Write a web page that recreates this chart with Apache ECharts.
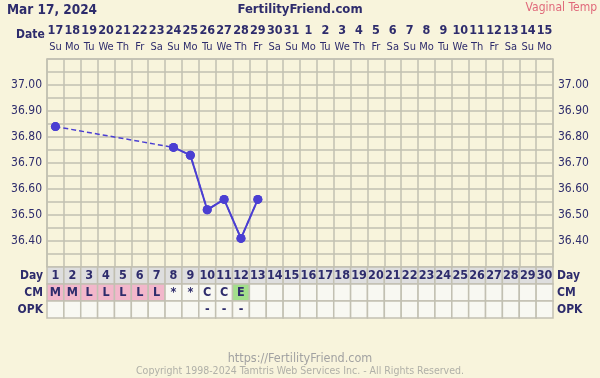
<!DOCTYPE html>
<html><head><meta charset="utf-8">
<script src="https://cdn.jsdelivr.net/npm/echarts@6/dist/echarts.min.js"></script>
<style>html,body{margin:0;padding:0;background:#f8f4dc}#c{width:600px;height:378px}</style>
</head><body><div id="c"></div>
<script>
const dateLabels = ['17','18','19','20','21','22','23','24','25','26','27','28','29','30','31','1','2','3','4','5','6','7','8','9','10','11','12','13','14','15'];
const weekdayLabels = ['Su','Mo','Tu','We','Th','Fr','Sa','Su','Mo','Tu','We','Th','Fr','Sa','Su','Mo','Tu','We','Th','Fr','Sa','Su','Mo','Tu','We','Th','Fr','Sa','Su','Mo'];
const cycleDays = [1,2,3,4,5,6,7,8,9,10,11,12,13,14,15,16,17,18,19,20,21,22,23,24,25,26,27,28,29,30];
const temps = [36.84,null,null,null,null,null,null,36.76,36.73,36.52,36.56,36.41,36.56,null,null,null,null,null,null,null,null,null,null,null,null,null,null,null,null,null];
const cmValues = ['M','M','L','L','L','L','L','*','*','C','C','E','','','','','','','','','','','','','','','','','',''];
const opkValues = ['','','','','','','','','','-','-','-','','','','','','','','','','','','','','','','','',''];
const rowNames = ['Day','CM','OPK'];
const yTickLabels = ['36.40','36.50','36.60','36.70','36.80','36.90','37.00'];

const FF = "'DejaVu Sans Condensed','DejaVu Sans',sans-serif";
const TXT = '#2e2c6c';
const GRID = '#c2c0b2';
const LINE = '#4b3fd2';
const cmFill = {M:'#f2b7cb', L:'#f2b7cb', E:'#a3df8c'};

const rows = [cycleDays.map(String), cmValues, opkValues];
const cells = [];
rows.forEach((r, ri) => r.forEach((_, ci) => cells.push([ci, ri])));

const yFmt = v => { const s = (Math.round(v*100)/100).toFixed(2); return yTickLabels.includes(s) ? s : ''; };

const chart = echarts.init(document.getElementById('c'), null, {renderer:'canvas'});
chart.setOption({
  backgroundColor:'#f8f4dc',
  animation:false,
  title:[
    {text:'Mar 17, 2024', left:7, top:3, padding:0, textStyle:{fontFamily:FF, fontWeight:'bold', fontSize:13.5, color:TXT}},
    {text:'FertilityFriend.com', left:'center', top:3, padding:0, textStyle:{fontFamily:FF, fontWeight:'bold', fontSize:13, color:TXT}},
    {text:'Vaginal Temp', right:3, top:2, padding:0, textStyle:{fontFamily:FF, fontWeight:'normal', fontSize:12, color:'#e0697a'}},
    {text:'Date', left:16, top:29, padding:0, textStyle:{fontFamily:FF, fontWeight:'bold', fontSize:12, color:TXT}},
    {text:'https://FertilityFriend.com', left:'center', top:352, padding:0, textStyle:{fontFamily:FF, fontWeight:'normal', fontSize:12.5, color:'#a2a2a2'}},
    {text:'Copyright 1998-2024 Tamtris Web Services Inc. - All Rights Reserved.', left:'center', top:366, padding:0, textStyle:{fontFamily:FF, fontWeight:'normal', fontSize:10.5, color:'#b0b0a8'}}
  ],
  grid:[
    {left:47, right:47, top:59, height:208},
    {left:47, right:47, top:267, height:51}
  ],
  xAxis:[
    {type:'category', gridIndex:0, position:'top', data:cycleDays, boundaryGap:true,
     axisLine:{show:true, lineStyle:{color:GRID, width:1.5}}, axisTick:{show:false},
     splitLine:{show:true, lineStyle:{color:GRID, width:1.5}},
     axisLabel:{interval:0, margin:4, formatter:(v,i)=>'{d|'+dateLabels[i]+'}\n{w|'+weekdayLabels[i]+'}',
       rich:{d:{fontFamily:FF, fontWeight:'bold', fontSize:12.5, color:TXT, lineHeight:16},
             w:{fontFamily:FF, fontWeight:'normal', fontSize:11, color:TXT, lineHeight:16}}}},
    {type:'category', gridIndex:1, data:cycleDays, boundaryGap:true,
     axisLine:{show:false}, axisTick:{show:false}, axisLabel:{show:false}, splitLine:{show:false}}
  ],
  yAxis:[
    {type:'value', gridIndex:0, min:36.3, max:37.1, interval:0.05, position:'left',
     axisLine:{show:true, lineStyle:{color:GRID, width:1.5}}, axisTick:{show:false},
     splitLine:{show:true, lineStyle:{color:GRID, width:1.5}},
     axisLabel:{margin:5, formatter:yFmt, fontFamily:FF, fontSize:12, color:TXT}},
    {type:'value', gridIndex:0, min:36.3, max:37.1, interval:0.05, position:'right',
     axisLine:{show:true, lineStyle:{color:GRID, width:1.5}}, axisTick:{show:false},
     splitLine:{show:false},
     axisLabel:{margin:5, formatter:yFmt, fontFamily:FF, fontSize:12, color:TXT}},
    {type:'category', gridIndex:1, data:rowNames, inverse:true, position:'left',
     axisLine:{show:false}, axisTick:{show:false}, splitLine:{show:false},
     axisLabel:{margin:4, fontFamily:FF, fontWeight:'bold', fontSize:12, color:TXT}},
    {type:'category', gridIndex:1, data:rowNames, inverse:true, position:'right',
     axisLine:{show:false}, axisTick:{show:false}, splitLine:{show:false},
     axisLabel:{margin:4, fontFamily:FF, fontWeight:'bold', fontSize:12, color:TXT}}
  ],
  series:[
    {type:'line', xAxisIndex:0, yAxisIndex:0, data:temps, connectNulls:true,
     lineStyle:{color:LINE, width:1.5, type:[5,3]}, itemStyle:{color:LINE},
     symbol:'circle', symbolSize:9, showSymbol:true, z:3},
    {type:'line', xAxisIndex:0, yAxisIndex:0, data:temps, connectNulls:false,
     lineStyle:{color:LINE, width:2}, itemStyle:{color:LINE},
     symbol:'circle', symbolSize:9, showSymbol:true, z:4},
    {type:'custom', xAxisIndex:1, yAxisIndex:2, data:cells,
     renderItem:(params, api)=>{
       const ci = api.value(0), ri = api.value(1);
       const c = api.coord([ci, ri]);
       const s = api.size([1,1]);
       const text = rows[ri][ci];
       let fill = '#f8f8f2';
       if (ri===0) fill = '#dedede';
       else if (ri===1 && cmFill[text]) fill = cmFill[text];
       return {type:'group', children:[
         {type:'rect', shape:{x:c[0]-s[0]/2, y:c[1]-s[1]/2, width:s[0], height:s[1]},
          style:{fill:fill, stroke:GRID, lineWidth:1.5}},
         {type:'text', style:{text:text, x:c[0], y:c[1], align:'center', verticalAlign:'middle',
          font:'bold 12.5px '+FF, fill:TXT}}
       ]};
     }}
  ]
});
</script></body></html>
